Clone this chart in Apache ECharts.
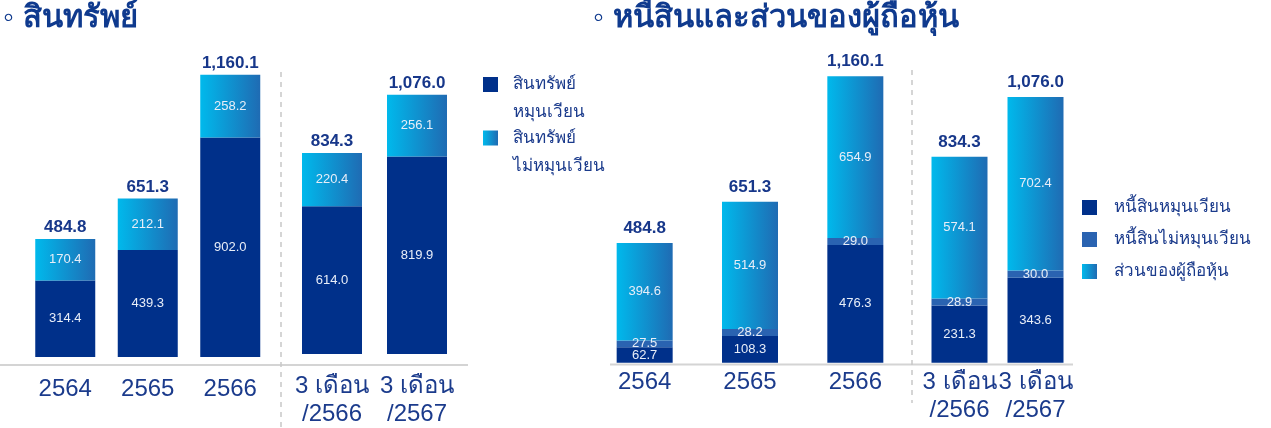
<!DOCTYPE html>
<html>
<head>
<meta charset="utf-8">
<script src="https://cdn.jsdelivr.net/npm/echarts@6/dist/echarts.min.js"></script>
<style>
  html, body { margin: 0; padding: 0; background: #fff; }
  #chart { width: 1271px; height: 428px; }
</style>
</head>
<body>
<div id="chart"></div>
<script>
// ข้อมูลจากภาพ (ล้านบาท)
const yearCats = ['2564', '2565', '2566']
const quarterCats = ['3 เดือน\n/2566', '3 เดือน\n/2567']

const assetCurrent = [314.4, 439.3, 902.0, 614.0, 819.9]
const assetNonCurrent = [170.4, 212.1, 258.2, 220.4, 256.1]
const totalAssets = [484.8, 651.3, 1160.1, 834.3, 1076.0]

const liabCurrent = [62.7, 108.3, 476.3, 231.3, 343.6]
const liabNonCurrent = [27.5, 28.2, 29.0, 28.9, 30.0]
const equity = [394.6, 514.9, 654.9, 574.1, 702.4]
const totalLiabEquity = [484.8, 651.3, 1160.1, 834.3, 1076.0]

const NAVY = '#00308a'
const MID = '#2a63b1'
const TEXT = '#1b3b8c'
const grad = () => new echarts.graphic.LinearGradient(0, 0, 1, 0, [
  { offset: 0, color: '#00b9ec' },
  { offset: 1, color: '#1f6bb3' },
])

const FONT = '"Liberation Sans", Arial, sans-serif'
const fmt = v => v.toLocaleString('en-US', { minimumFractionDigits: 1, maximumFractionDigits: 1 })

const chart = echarts.init(document.getElementById('chart'))

// กริด: 0,1 = สินทรัพย์ (ปี / ไตรมาส), 2,3 = หนี้สินและส่วนของผู้ถือหุ้น
const grids = [
  { left: 24, width: 247.5, top: 65, bottom: 71 },
  { left: 289.5, width: 170, top: 65, bottom: 71 },
  { left: 592, width: 316, top: 66.3, bottom: 65.3 },
  { left: 921.5, width: 152, top: 66.3, bottom: 65.3 },
]

const xAxes = grids.map((g, i) => ({
  type: 'category',
  gridIndex: i,
  data: i % 2 === 0 ? yearCats : quarterCats,
  axisLine: { show: false },
  axisTick: { show: false },
  axisLabel: {
    color: TEXT, fontSize: 24, lineHeight: 28, fontFamily: FONT,
    margin: i < 2 ? 18 : 6, interval: 0,
  },
}))

const yAxes = grids.map((g, i) => ({
  type: 'value', gridIndex: i, min: 0, max: 1200, show: false,
}))

const segLabel = {
  show: true, position: 'inside', color: '#e8eef8', fontSize: 13, fontFamily: FONT,
  formatter: p => fmt(p.value),
}

function totalLabel(totals, dist) {
  return {
    show: true, position: 'top', distance: dist, color: '#17378a', fontSize: 17,
    fontWeight: 'bold', fontFamily: FONT,
    formatter: p => fmt(totals[p.dataIndex]),
  }
}

const NAME_AC = 'สินทรัพย์\nหมุนเวียน'
const NAME_ANC = 'สินทรัพย์\nไม่หมุนเวียน'
const NAME_LC = 'หนี้สินหมุนเวียน'
const NAME_LNC = 'หนี้สินไม่หมุนเวียน'
const NAME_EQ = 'ส่วนของผู้ถือหุ้น'

const series = []
;[[0, 0, 3], [1, 3, 5]].forEach(([gi, a, b]) => {
  series.push({
    name: NAME_AC, type: 'bar', stack: 'a' + gi, xAxisIndex: gi, yAxisIndex: gi,
    barWidth: 60, data: assetCurrent.slice(a, b),
    itemStyle: { color: NAVY }, label: segLabel,
  })
  series.push({
    name: NAME_ANC, type: 'bar', stack: 'a' + gi, xAxisIndex: gi, yAxisIndex: gi,
    barWidth: 60, data: assetNonCurrent.slice(a, b),
    itemStyle: { color: grad() }, label: segLabel,
  })
  // ยอดรวมด้านบน
  series.push({
    type: 'bar', stack: 'a' + gi, xAxisIndex: gi, yAxisIndex: gi, barWidth: 60,
    data: assetCurrent.slice(a, b).map(() => 0), silent: true,
    itemStyle: { color: 'transparent' },
    label: totalLabel(totalAssets.slice(a, b), 3),
  })
})
;[[2, 0, 3], [3, 3, 5]].forEach(([gi, a, b]) => {
  series.push({
    name: NAME_LC, type: 'bar', stack: 'l' + gi, xAxisIndex: gi, yAxisIndex: gi,
    barWidth: 56, data: liabCurrent.slice(a, b),
    itemStyle: { color: NAVY }, label: segLabel,
  })
  series.push({
    name: NAME_LNC, type: 'bar', stack: 'l' + gi, xAxisIndex: gi, yAxisIndex: gi,
    barWidth: 56, data: liabNonCurrent.slice(a, b),
    itemStyle: { color: MID }, label: segLabel,
  })
  series.push({
    name: NAME_EQ, type: 'bar', stack: 'l' + gi, xAxisIndex: gi, yAxisIndex: gi,
    barWidth: 56, data: equity.slice(a, b),
    itemStyle: { color: grad() }, label: segLabel,
  })
  series.push({
    type: 'bar', stack: 'l' + gi, xAxisIndex: gi, yAxisIndex: gi, barWidth: 56,
    data: liabCurrent.slice(a, b).map(() => 0), silent: true,
    itemStyle: { color: 'transparent' },
    label: totalLabel(totalLiabEquity.slice(a, b), 6),
  })
})

const legendBase = {
  orient: 'vertical', icon: 'rect', itemWidth: 15, itemHeight: 15,
  padding: 0, selectedMode: false,
}
// บรรทัดว่างด้านบน ให้ไอคอนตรงกับบรรทัดแรก
const leftLegendText = { color: TEXT, fontSize: 17, lineHeight: 28, fontFamily: FONT, padding: [0, 0, 0, 10] }

chart.setOption({
  animation: false,
  title: [
    { text: '◦ สินทรัพย์', left: -2, top: -2,
      textStyle: { color: '#0f3a8e', fontSize: 31, fontWeight: 'bold', fontFamily: FONT } },
    { text: '◦ หนี้สินและส่วนของผู้ถือหุ้น', left: 588, top: -2,
      textStyle: { color: '#0f3a8e', fontSize: 31, fontWeight: 'bold', fontFamily: FONT } },
  ],
  legend: [
    { ...legendBase, data: [NAME_AC], left: 483, top: 42.5,
      formatter: n => '\n' + n, textStyle: leftLegendText },
    { ...legendBase, data: [NAME_ANC], left: 483, top: 96,
      formatter: n => '\n' + n, textStyle: leftLegendText },
    { ...legendBase, data: [NAME_LC, NAME_LNC, NAME_EQ], left: 1082, top: 197.5, itemGap: 12,
      textStyle: { color: TEXT, fontSize: 17, lineHeight: 20, fontFamily: FONT, padding: [0, 0, 0, 12] } },
  ],
  grid: grids,
  xAxis: xAxes,
  yAxis: yAxes,
  series,
  graphic: [
    // เส้นฐานและเส้นแบ่ง
    { type: 'line', shape: { x1: 0, y1: 365, x2: 468, y2: 365 }, style: { stroke: '#d4d4d4', lineWidth: 2 } },
    { type: 'line', shape: { x1: 281, y1: 72, x2: 281, y2: 428 }, style: { stroke: '#c8c8c8', lineWidth: 1.5, lineDash: [5, 5] } },
    { type: 'line', shape: { x1: 610, y1: 364.5, x2: 1073, y2: 364.5 }, style: { stroke: '#d4d4d4', lineWidth: 2 } },
    { type: 'line', shape: { x1: 912, y1: 70, x2: 912, y2: 403 }, style: { stroke: '#c8c8c8', lineWidth: 1.5, lineDash: [5, 5] } },
  ],
})

window.addEventListener('resize', () => chart.resize())
</script>
</body>
</html>
